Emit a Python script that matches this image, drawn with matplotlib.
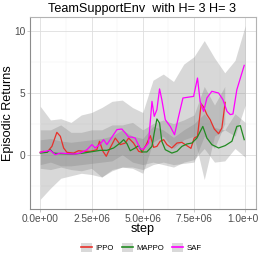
import matplotlib
matplotlib.use("Agg")
import matplotlib.pyplot as plt
from matplotlib.lines import Line2D
from matplotlib.patches import Patch
import numpy as np

plt.rcParams['font.family'] = ['Liberation Sans', 'DejaVu Sans']

title = "TeamSupportEnv  with H= 3 H= 3"
series_names = ["IPPO", "MAPPO", "SAF"]
colors = {"IPPO": "#E8302A", "MAPPO": "#228B22", "SAF": "#FF00FF"}

# mean lines (x in millions of steps)
ippo_x = [0.00, 0.16, 0.33, 0.57, 0.81, 0.98, 1.14, 1.30, 1.63, 1.87, 2.11, 2.44, 2.76, 2.89, 3.06, 3.22,
          3.41, 3.66, 3.90, 4.15, 4.31, 4.55, 4.80, 4.96, 5.17, 5.37, 5.53, 5.69, 5.85, 6.02, 6.18, 6.42,
          6.67, 6.91, 7.15, 7.35, 7.51, 7.67, 7.85, 7.97, 8.13, 8.29, 8.49, 8.70, 8.86, 9.02]
ippo_y = [0.19, 0.27, 0.19, 0.67, 1.80, 1.48, 0.54, 0.19, 0.13, 0.32, 0.27, 0.27, 0.40, 1.08, 0.27, -0.13,
          0.54, 1.34, 0.81, 0.94, 1.34, 0.94, 0.27, 0.19, 0.81, 1.53, 0.59, 0.67, 1.08, 1.21, 0.81, 0.54,
          0.94, 0.99, 0.73, 0.51, 1.34, 1.48, 4.10, 3.84, 3.23, 2.82, 2.07, 1.69, 2.15, 4.22]

mappo_x = [0.00, 0.33, 0.49, 0.65, 0.98, 1.63, 2.11, 2.44, 2.93, 3.25, 3.58, 3.90, 4.07, 4.23, 4.39, 4.63,
           4.80, 4.96, 5.20, 5.45, 5.56, 5.69, 5.82, 5.93, 6.10, 6.42, 6.67, 6.91, 7.15, 7.40, 7.64, 7.93,
           8.13, 8.37, 8.70, 9.02, 9.35, 9.59, 9.76, 9.95]
mappo_y = [0.13, 0.19, 0.40, 0.13, 0.08, 0.05, 0.13, 0.22, 0.35, 0.35, 0.54, 0.94, 1.21, 0.89, 0.32, 0.54,
           0.73, 0.22, 0.22, 0.67, 1.75, 2.88, 2.55, 1.08, 0.40, 0.13, 0.27, 0.67, 0.86, 0.94, 1.34, 2.28,
           1.34, 0.81, 0.54, 0.73, 1.08, 2.28, 2.34, 1.21]

saf_x = [0.00, 0.24, 0.49, 0.73, 0.98, 1.63, 1.95, 2.28, 2.52, 2.68, 2.93, 3.09, 3.25, 3.41, 3.74, 3.98,
         4.15, 4.31, 4.47, 4.63, 4.88, 5.04, 5.28, 5.45, 5.56, 5.69, 5.82, 5.93, 6.10, 6.34, 6.55, 6.75,
         6.96, 7.48, 7.67, 7.80, 7.97, 8.13, 8.37, 8.70, 8.91, 9.11, 9.27, 9.40, 9.59, 9.95]
saf_y = [0.19, 0.27, 0.35, 0.00, 0.13, 0.05, 0.13, 0.40, 0.81, 0.54, 0.86, 1.21, 0.81, 1.21, 2.02, 2.07,
         1.75, 1.42, 1.42, 1.34, 0.46, 0.46, 0.94, 4.30, 3.09, 3.63, 5.30, 4.44, 2.82, 2.28, 1.61, 3.09,
         4.57, 4.70, 6.18, 4.30, 3.49, 4.57, 5.11, 4.97, 4.44, 3.49, 3.23, 3.28, 5.24, 7.20]

# ribbons (x in millions of steps)
band_x = [0.0, 0.5, 1.0, 1.5, 2.0, 2.5, 3.0, 3.5, 4.0, 4.5, 5.0, 5.5, 6.0, 6.5, 7.0, 7.5, 8.0, 8.5, 9.0, 9.5, 10.0]
saf_hi = [3.9, 2.8, 2.9, 2.6, 3.2, 3.4, 3.8, 4.3, 4.4, 3.8, 3.4, 6.0, 6.5, 5.9, 7.3, 7.9, 9.2, 7.8, 6.6, 7.6, 10.4]
saf_lo = [-3.6, -2.7, -1.9, -1.7, -1.5, -1.6, -1.8, -1.3, -1.0, -1.1, -1.5, 1.0, 1.5, 0.5, 1.2, 1.5, -2.0, 1.5, 2.0, 1.5, 4.0]
ippo_bx = band_x[:19]
ippo_hi = [2.0, 2.0, 2.4, 1.8, 1.8, 2.0, 2.0, 2.4, 2.4, 2.6, 2.0, 2.5, 2.8, 2.5, 2.8, 3.2, 5.5, 4.0, 5.5]
ippo_lo = [-1.1, -1.2, -1.0, -1.2, -1.3, -1.1, -1.8, -1.2, -1.0, -1.0, -1.2, -0.8, -0.6, -0.8, -0.7, -0.6, 1.5, 0.5, 2.5]
mappo_hi = [1.2, 1.3, 1.1, 1.0, 1.1, 1.2, 1.3, 1.5, 2.0, 1.5, 1.3, 2.3, 2.0, 1.4, 2.0, 2.5, 3.3, 2.2, 2.0, 3.3, 2.6]
mappo_lo = [-0.8, -0.6, -0.9, -0.9, -0.8, -0.7, -0.6, -0.5, 0.0, -0.6, -0.8, -0.6, -0.8, -1.0, -0.6, -0.4, 0.5, -0.6, -0.5, 0.5, -0.2]

xticks = [0.0, 2.5e6, 5.0e6, 7.5e6, 1.0e7]
xticklabels = ["0.0e+00", "2.5e+06", "5.0e+06", "7.5e+06", "1.0e+07"]
yticks = [0, 5, 10]

fig = plt.figure(figsize=(2.58, 2.58), dpi=100)
W = H = 258.0
ax = fig.add_axes([30 / W, 1 - 209 / H, (255.5 - 30) / W, (209 - 17) / H])

M = 1e6
ribbon_fill = "#7F7F7F"
for bx, lo, hi in [(band_x, saf_lo, saf_hi), (ippo_bx, ippo_lo, ippo_hi), (band_x, mappo_lo, mappo_hi)]:
    ax.fill_between(np.array(bx) * M, lo, hi, color=ribbon_fill, alpha=0.3, linewidth=0, zorder=2)

ax.plot(np.array(ippo_x) * M, ippo_y, color=colors["IPPO"], lw=0.9, zorder=3)
ax.plot(np.array(mappo_x) * M, mappo_y, color=colors["MAPPO"], lw=0.9, zorder=3)
ax.plot(np.array(saf_x) * M, saf_y, color=colors["SAF"], lw=0.9, zorder=3)

ax.set_xlim(-0.5e6, 10.5e6)
ax.set_ylim(-4.38, 11.1)
ax.set_xticks(xticks)
ax.set_xticklabels(xticklabels)
ax.set_yticks(yticks)
ax.set_xticks([1.25e6, 3.75e6, 6.25e6, 8.75e6], minor=True)
ax.set_yticks([-2.5, 2.5, 7.5], minor=True)
ax.grid(True, which='major', color='#DEDEDE', lw=0.6, zorder=0)
ax.grid(True, which='minor', color='#EFEFEF', lw=0.35, zorder=0)
ax.set_axisbelow(True)
ax.tick_params(which='major', length=2, width=0.5, color='#B3B3B3', labelsize=7.3,
               labelcolor='#4D4D4D', pad=1.5)
ax.tick_params(which='minor', length=0)
for s in ['top', 'right']:
    ax.spines[s].set_color('#B3B3B3')
    ax.spines[s].set_linewidth(0.8)
for s in ['left', 'bottom']:
    ax.spines[s].set_color('#8C8C8C')
    ax.spines[s].set_linewidth(0.8)

fig.text(142.5 / W, 1 - 12 / H, title, ha='center', va='baseline', fontsize=9.1, color='black')
fig.text(142.5 / W, 1 - 232 / H, "step", ha='center', va='baseline', fontsize=9.1, color='black')
fig.text(2.5 / W, 1 - 113 / H, "Episodic Returns", rotation=90, ha='left', va='center',
         fontsize=9.1, color='black')

handles = []
for n in series_names:
    p = Patch(facecolor='#D9D9D9', edgecolor='none')
    l = Line2D([], [], color=colors[n], lw=1.2)
    handles.append((p, l))
fig.legend(handles, series_names, loc='center', bbox_to_anchor=(141.5 / W, 1 - 247.7 / H),
           ncol=3, frameon=False, fontsize=5.6, handlelength=1.4, handleheight=1.3,
           handletextpad=0.5, columnspacing=1.0, borderpad=0)

fig.savefig("out.png", dpi=100)
